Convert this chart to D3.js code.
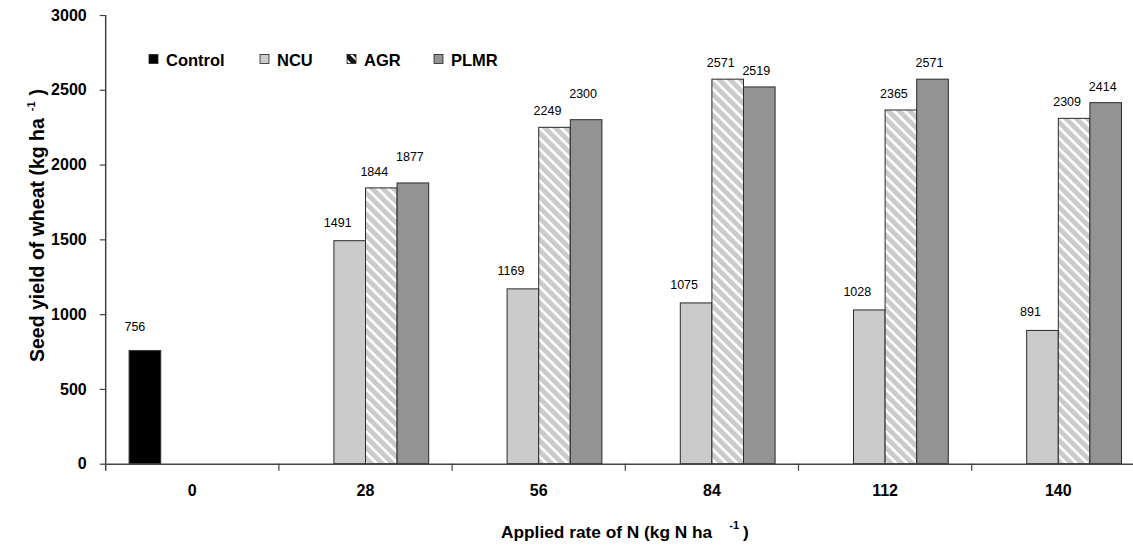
<!DOCTYPE html>
<html>
<head>
<meta charset="utf-8">
<script src="https://cdn.jsdelivr.net/npm/d3@7"></script>
<style>
  html, body { margin: 0; padding: 0; background: #fff; }
  svg { display: block; font-family: "Liberation Sans", Arial, sans-serif; }
</style>
</head>
<body>
<svg id="chart" width="1133" height="546"></svg>
<script>
// ---- data ----
const categories = ["0", "28", "56", "84", "112", "140"];
const seriesNames = ["Control", "NCU", "AGR", "PLMR"];
const controlValues = [756, null, null, null, null, null];
const ncuValues = [null, 1491, 1169, 1075, 1028, 891];
const agrValues = [null, 1844, 2249, 2571, 2365, 2309];
const plmrValues = [null, 1877, 2300, 2519, 2571, 2414];
const yTicks = [0, 500, 1000, 1500, 2000, 2500, 3000];

const seriesValues = {
  Control: controlValues,
  NCU: ncuValues,
  AGR: agrValues,
  PLMR: plmrValues
};

// ---- layout / style ----
const svg = d3.select("#chart");
const plotLeft = 105.7, bandW = 173.2, groupPad = 23.4;
const plotBottom = 463.7, plotTop = 15;
const FONT = "Liberation Sans, Arial, sans-serif";

const x0 = d3.scaleBand().domain(categories)
  .range([plotLeft, plotLeft + bandW * categories.length]).padding(0);
const x1 = d3.scaleBand().domain(seriesNames)
  .range([groupPad, x0.bandwidth() - groupPad]).padding(0);
const y = d3.scaleLinear().domain([0, 3000]).range([plotBottom, plotTop]);

// patterns
const defs = svg.append("defs");
const pat = defs.append("pattern").attr("id", "hatch")
  .attr("patternUnits", "userSpaceOnUse").attr("width", 7.5).attr("height", 7.5)
  .attr("patternTransform", "rotate(45)");
pat.append("rect").attr("width", 7.5).attr("height", 7.5).attr("fill", "#cbcbcb");
pat.append("rect").attr("x", 0).attr("y", 0).attr("width", 7.5).attr("height", 2.6).attr("fill", "#ffffff");

const patL = defs.append("pattern").attr("id", "hatchLegend")
  .attr("patternUnits", "userSpaceOnUse").attr("width", 7).attr("height", 7)
  .attr("patternTransform", "rotate(45)");
patL.append("rect").attr("width", 7).attr("height", 7).attr("fill", "#111");
patL.append("rect").attr("x", 0).attr("y", 0).attr("width", 7).attr("height", 2).attr("fill", "#ffffff");

const fills = { Control: "#000000", NCU: "#cbcbcb", AGR: "url(#hatch)", PLMR: "#939393" };
const legendFills = { Control: "#000000", NCU: "#cbcbcb", AGR: "url(#hatchLegend)", PLMR: "#939393" };
// label placement style per series (offset from bar centre / top)
const labelDx = { Control: -10, NCU: -12, AGR: -7, PLMR: -3 };
const labelDy = { Control: -20, NCU: -14, AGR: -12, PLMR: -12 };

// bars
const barData = [];
categories.forEach((c, i) => {
  seriesNames.forEach(s => {
    const v = seriesValues[s][i];
    if (v != null) barData.push({ cat: c, series: s, value: v, idx: i });
  });
});

svg.append("g").selectAll("rect").data(barData).join("rect")
  .attr("x", d => x0(d.cat) + x1(d.series))
  .attr("y", d => y(d.value))
  .attr("width", x1.bandwidth())
  .attr("height", d => y(0) - y(d.value))
  .attr("fill", d => fills[d.series])
  .attr("stroke", "#2a2a2a")
  .attr("stroke-width", 1);

// value labels (PLMR label lifted when it would sit level with the AGR label)
function labelY(d) {
  let ly = y(d.value) + labelDy[d.series];
  if (d.series === "PLMR") {
    const a = agrValues[d.idx];
    if (a != null && d.value >= a && Math.abs(y(a) - y(d.value)) < 10) ly -= 10;
  }
  return ly;
}
svg.append("g").selectAll("text").data(barData).join("text")
  .attr("x", d => x0(d.cat) + x1(d.series) + x1.bandwidth() / 2 + labelDx[d.series])
  .attr("y", labelY)
  .attr("text-anchor", "middle")
  .attr("font-size", 12.5)
  .attr("fill", "#000")
  .text(d => d.value);

// y axis
const yAxis = svg.append("g").attr("transform", `translate(${plotLeft},0)`)
  .call(d3.axisLeft(y).tickValues(yTicks).tickFormat(d3.format("d"))
    .tickSize(6).tickPadding(13).tickSizeOuter(0));
yAxis.select(".domain").attr("stroke", "#444").attr("stroke-width", 1.5)
  .attr("d", `M0,${plotTop}V${plotBottom + 7}`);
yAxis.selectAll(".tick line").attr("stroke", "#444").attr("stroke-width", 1.2);
yAxis.selectAll(".tick text").attr("font-size", 16).attr("font-weight", "bold")
  .attr("fill", "#000").attr("font-family", FONT);

// x axis
const xAxis = svg.append("g").attr("transform", `translate(0,${plotBottom})`)
  .call(d3.axisBottom(x0).tickSize(0).tickPadding(21).tickSizeOuter(0));
xAxis.select(".domain").attr("stroke", "#444").attr("stroke-width", 1.5);
xAxis.selectAll(".tick text").attr("font-size", 16).attr("font-weight", "bold")
  .attr("fill", "#000").attr("font-family", FONT);
svg.append("g").selectAll("line").data(categories.slice(1)).join("line")
  .attr("x1", d => x0(d)).attr("x2", d => x0(d))
  .attr("y1", plotBottom).attr("y2", plotBottom + 7)
  .attr("stroke", "#444").attr("stroke-width", 1.2);

// legend
const legendX = [149, 260, 347, 434];
const legend = svg.append("g");
seriesNames.forEach((s, i) => {
  const g = legend.append("g").attr("transform", `translate(${legendX[i]},59)`);
  g.append("rect").attr("x", 0).attr("y", -4.5).attr("width", 9).attr("height", 9)
    .attr("fill", legendFills[s]).attr("stroke", "#222").attr("stroke-width", 0.8);
  g.append("text").attr("x", 17).attr("y", 6.5).attr("font-size", 16.5)
    .attr("font-weight", "bold").attr("fill", "#000").text(s);
});

// axis titles
const yTitle = svg.append("text")
  .attr("transform", "translate(44,362) rotate(-90)")
  .attr("text-anchor", "start")
  .attr("font-size", 19.5).attr("font-weight", "bold").attr("fill", "#000");
yTitle.append("tspan").text("Seed yield of wheat (kg ha");
yTitle.append("tspan").attr("font-size", 11).attr("dy", -9).attr("dx", 7).text("-1");
yTitle.append("tspan").attr("dy", 9).attr("dx", 6).text(")");

const xTitle = svg.append("text")
  .attr("x", 501).attr("y", 538)
  .attr("text-anchor", "start")
  .attr("font-size", 17.3).attr("font-weight", "bold").attr("fill", "#000");
xTitle.append("tspan").text("Applied rate of N (kg N ha");
xTitle.append("tspan").attr("font-size", 11).attr("dy", -9).attr("dx", 17).text("-1");
xTitle.append("tspan").attr("dy", 9).attr("dx", 4).text(")");
</script>
</body>
</html>
